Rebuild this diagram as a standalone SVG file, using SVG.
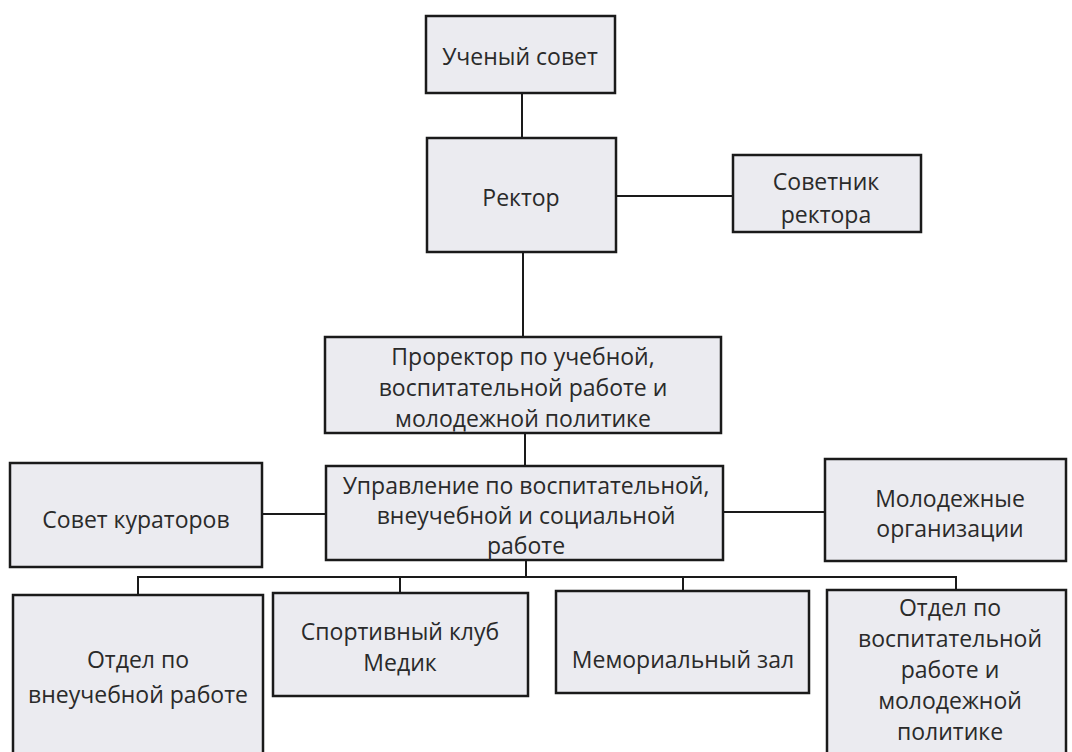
<svg xmlns="http://www.w3.org/2000/svg" width="1072" height="752" viewBox="0 0 1072 752">
<style>
.box{fill:#ebebf0;stroke:#1a1a1a;stroke-width:2.5}
.ln{fill:none;stroke:#1a1a1a;stroke-width:2}
.t{font-family:"Open Sans","Noto Sans","Liberation Sans",sans-serif;font-size:23px;fill:#2a2a2a;text-anchor:middle}
</style>
<rect x="0" y="0" width="1072" height="752" fill="#ffffff"/>
<g id="connectors">
<line class="ln" x1="522" y1="93" x2="522" y2="138"/>
<line class="ln" x1="616" y1="196" x2="733" y2="196"/>
<line class="ln" x1="523" y1="252" x2="523" y2="337"/>
<line class="ln" x1="525" y1="433" x2="525" y2="466"/>
<line class="ln" x1="262" y1="514" x2="326" y2="514"/>
<line class="ln" x1="723" y1="512" x2="825" y2="512"/>
<line class="ln" x1="526" y1="560" x2="526" y2="577"/>
<polyline class="ln" points="138,595 138,577 956,577 956,590"/>
<line class="ln" x1="400" y1="577" x2="400" y2="593"/>
<line class="ln" x1="683" y1="577" x2="683" y2="591"/>
</g>
<g id="uchenyi-sovet">
<rect class="box" x="426" y="16" width="189" height="77"/>
<text class="t" x="520" y="65">Ученый совет</text>
</g>
<g id="rektor">
<rect class="box" x="427" y="138" width="189" height="114"/>
<text class="t" x="521" y="206">Ректор</text>
</g>
<g id="sovetnik">
<rect class="box" x="733" y="155" width="188" height="77"/>
<text class="t" x="826" y="190">Советник</text>
<text class="t" x="826" y="223">ректора</text>
</g>
<g id="prorektor">
<rect class="box" x="325" y="337" width="396" height="96"/>
<text class="t" x="523" y="365">Проректор по учебной,</text>
<text class="t" x="523" y="396">воспитательной работе и</text>
<text class="t" x="523" y="427">молодежной политике</text>
</g>
<g id="upravlenie">
<rect class="box" x="326" y="466" width="397" height="94"/>
<text class="t" x="526" y="494">Управление по воспитательной,</text>
<text class="t" x="526" y="524">внеучебной и социальной</text>
<text class="t" x="526" y="554">работе</text>
</g>
<g id="sovet-kuratorov">
<rect class="box" x="10" y="463" width="252" height="104"/>
<text class="t" x="136" y="528">Совет кураторов</text>
</g>
<g id="molodezhnye">
<rect class="box" x="825" y="459" width="241" height="102"/>
<text class="t" x="950" y="507">Молодежные</text>
<text class="t" x="950" y="537">организации</text>
</g>
<g id="otdel-vneucheb">
<rect class="box" x="13" y="595" width="250" height="170"/>
<text class="t" x="138" y="668">Отдел по</text>
<text class="t" x="138" y="703">внеучебной работе</text>
</g>
<g id="sport-klub">
<rect class="box" x="273" y="593" width="255" height="103"/>
<text class="t" x="400" y="640">Спортивный клуб</text>
<text class="t" x="400" y="671">Медик</text>
</g>
<g id="memorial">
<rect class="box" x="556" y="591" width="253" height="102"/>
<text class="t" x="683" y="668">Мемориальный зал</text>
</g>
<g id="otdel-vospit">
<rect class="box" x="827" y="590" width="239" height="175"/>
<text class="t" x="950" y="616">Отдел по</text>
<text class="t" x="950" y="647">воспитательной</text>
<text class="t" x="950" y="678">работе и</text>
<text class="t" x="950" y="709">молодежной</text>
<text class="t" x="950" y="740">политике</text>
</g>
</svg>
